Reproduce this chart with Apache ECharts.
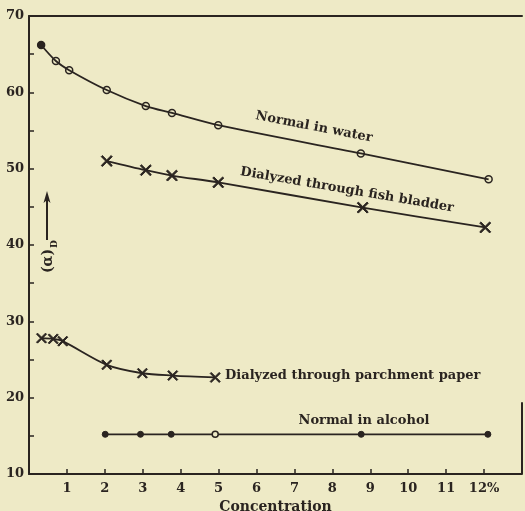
<!DOCTYPE html>
<html>
<head>
<meta charset="utf-8">
<script src="https://cdn.jsdelivr.net/npm/echarts@6/dist/echarts.min.js"></script>
<style>
  html, body { margin: 0; padding: 0; background: #eeeac6; }
  #main { width: 525px; height: 511px; }
</style>
</head>
<body>
<div id="main"></div>
<script>
// concentration (%) and rotation (α)D
var waterX = [0.32, 0.71, 1.06, 2.05, 3.08, 3.77, 4.99, 8.75, 12.12];
var waterY = [66.2, 64.1, 62.9, 60.3, 58.2, 57.3, 55.7, 52.0, 48.6];
var bladderX = [2.05, 3.08, 3.77, 4.99, 8.8, 12.03];
var bladderY = [51.0, 49.8, 49.1, 48.2, 44.9, 42.3];
var parchX = [0.33, 0.64, 0.89, 2.05, 2.99, 3.79, 4.91];
var parchY = [27.8, 27.7, 27.4, 24.3, 23.2, 22.9, 22.65];
var alcX = [2.01, 2.94, 3.75, 4.91, 8.76, 12.1];
var alcY = [15.2, 15.2, 15.2, 15.2, 15.2, 15.2];

var xTickLabels = ['', '1', '2', '3', '4', '5', '6', '7', '8', '9', '10', '11', '12%', ''];

var ink = '#2a2420';
var paper = '#eeeac6';
var font = 'DejaVu Serif';
// X mark drawn as a filled polygon
var cross = 'path://M0,1L1,0L5,4L9,0L10,1L6,5L10,9L9,10L5,6L1,10L0,9L4,5Z';
var ring = { color: 'rgba(0,0,0,0)', borderColor: ink, borderWidth: 1.5 };

function pairs(xs, ys) {
  return xs.map(function (x, i) { return [x, ys[i]]; });
}

var baseLine = {
  type: 'line',
  smooth: 0.3,
  showAllSymbol: true,
  lineStyle: { color: ink, width: 1.8 },
  itemStyle: { color: ink, borderColor: ink },
  z: 3
};

var option = {
  backgroundColor: paper,
  animation: false,
  grid: { left: 29, top: 16, right: 3, bottom: 37, containLabel: false, outerBoundsMode: 'none' },
  xAxis: [{
    type: 'value', min: 0, max: 13, interval: 1,
    axisLine: { lineStyle: { color: ink, width: 2 } },
    axisTick: { inside: true, length: 5, lineStyle: { color: ink, width: 1.5 } },
    splitLine: { show: false },
    axisLabel: {
      color: ink, fontFamily: font, fontWeight: 'bold', fontSize: 13, margin: 8,
      formatter: function (v) { return xTickLabels[v]; }
    },
    name: 'Concentration', nameLocation: 'middle', nameGap: 22,
    nameTextStyle: { color: ink, fontFamily: font, fontWeight: 'bold', fontSize: 14 }
  }, {
    type: 'value', min: 0, max: 13, position: 'top',
    axisLine: { lineStyle: { color: ink, width: 2 } },
    axisTick: { show: false }, axisLabel: { show: false }, splitLine: { show: false }
  }],
  yAxis: {
    type: 'value', min: 10, max: 70, interval: 5,
    axisLine: { lineStyle: { color: ink, width: 2 } },
    axisTick: { inside: true, length: 5, lineStyle: { color: ink, width: 1.5 } },
    splitLine: { show: false },
    axisLabel: {
      color: ink, fontFamily: font, fontWeight: 'bold', fontSize: 13, margin: 5,
      formatter: function (v) { return v % 10 === 0 ? v : ''; }
    }
  },
  series: [
    Object.assign({}, baseLine, {
      name: 'Normal in water',
      symbol: 'circle', symbolSize: 7,
      itemStyle: ring,
      data: pairs(waterX, waterY).map(function (p, i) {
        return i === 0 ? { value: p, itemStyle: { color: ink, borderColor: ink } } : p;
      })
    }),
    Object.assign({}, baseLine, {
      name: 'Dialyzed through fish bladder',
      symbol: cross, symbolSize: 11,
      data: pairs(bladderX, bladderY)
    }),
    Object.assign({}, baseLine, {
      name: 'Dialyzed through parchment paper',
      symbol: cross, symbolSize: 10,
      data: pairs(parchX, parchY)
    }),
    Object.assign({}, baseLine, {
      name: 'Normal in alcohol',
      smooth: false,
      symbol: 'circle', symbolSize: 6,
      data: pairs(alcX, alcY).map(function (p, i) {
        return i === 3 ? { value: p, itemStyle: { color: paper, borderColor: ink, borderWidth: 1.5 } } : p;
      }),
      // piece of the right frame that survives on the plate
      markLine: {
        silent: true, symbol: 'none', label: { show: false },
        lineStyle: { color: ink, width: 2, type: 'solid' },
        data: [[{ coord: [13, 10] }, { coord: [13, 19.4] }]]
      }
    })
  ],
  graphic: [
    { type: 'text', x: 314, y: 127, rotation: -0.19,
      style: { text: 'Normal in water', fill: ink, font: 'bold 13px "DejaVu Serif"', textAlign: 'center', textVerticalAlign: 'middle' } },
    { type: 'text', x: 347, y: 190, rotation: -0.17,
      style: { text: 'Dialyzed through fish bladder', fill: ink, font: 'bold 13px "DejaVu Serif"', textAlign: 'center', textVerticalAlign: 'middle' } },
    { type: 'text', x: 225, y: 376,
      style: { text: 'Dialyzed through parchment paper', fill: ink, font: 'bold 13px "DejaVu Serif"', textAlign: 'left', textVerticalAlign: 'middle' } },
    { type: 'text', x: 364, y: 421,
      style: { text: 'Normal in alcohol', fill: ink, font: 'bold 13px "DejaVu Serif"', textAlign: 'center', textVerticalAlign: 'middle' } },
    // y-axis name (α)D with arrow
    { type: 'text', x: 48, y: 261, rotation: Math.PI / 2,
      style: { text: '(α)', fill: ink, font: 'bold 14px "DejaVu Serif"', textAlign: 'center', textVerticalAlign: 'middle' } },
    { type: 'text', x: 55, y: 244, rotation: Math.PI / 2,
      style: { text: 'D', fill: ink, font: 'bold 9px "DejaVu Serif"', textAlign: 'center', textVerticalAlign: 'middle' } },
    { type: 'line', shape: { x1: 47, y1: 240, x2: 47, y2: 197 }, style: { stroke: ink, lineWidth: 2 } },
    { type: 'polygon', shape: { points: [[47, 191], [43.5, 203], [47, 200], [50.5, 203]] }, style: { fill: ink } }
  ]
};

var chart = echarts.init(document.getElementById('main'));
chart.setOption(option);
</script>
</body>
</html>
